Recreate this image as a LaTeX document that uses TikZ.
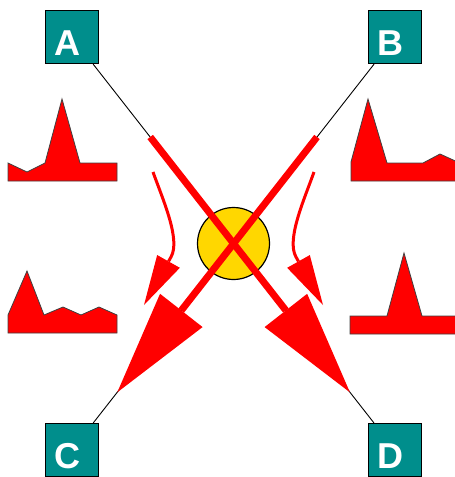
\documentclass[tikz,border=0pt]{standalone}
\usepackage{fontspec}
\setmainfont{Liberation Sans}
\usepackage{tikz}
\usetikzlibrary{arrows.meta,positioning,calc}

\definecolor{tealbox}{RGB}{0,142,140}
\definecolor{hubgold}{RGB}{255,215,0}
\newcommand{\boxletter}[1]{\hspace*{-10pt}#1}

\begin{document}
\begin{tikzpicture}[
    x=1pt, y=-1pt,
    portbox/.style={rectangle, draw=black, line width=1.2pt, fill=tealbox, minimum size=53pt, inner sep=0pt,
        text=white, font=\bfseries\fontsize{36}{36}\selectfont, text height=36pt, text depth=0pt},
    wire/.style={black, line width=0.9pt},
    bigarrow/.style={red, line width=7pt, -{Triangle[length=104pt, width=54pt, line width=0pt]}},
    smallarrow/.style={red, line width=3pt, -{Triangle[length=50pt, width=26pt, line width=0pt]}},
    wave/.style={fill=red, draw=black!75, line width=0.8pt, line join=miter}
]
\useasboundingbox (0,0) rectangle (455,477);

\node[portbox] (A) at (72,37) {\boxletter{A}};
\node[portbox, right=269pt of A] (B) {\boxletter{B}};
\node[portbox, below=359pt of A] (C) {\boxletter{C}};
\node[portbox, below=359pt of B] (D) {\boxletter{D}};

% thin wires between the ports
\draw[wire] (A) -- (D);
\draw[wire] (B) -- (C);

\node[circle, draw=black, line width=1.2pt, fill=hubgold, minimum size=72pt] (hub) at (233.5,243.5) {};

% crossing arrows
\draw[bigarrow] ($(A)!0.242!(D)$) -- ($(A)!0.86!(D)$);
\draw[bigarrow] ($(B)!0.242!(C)$) -- ($(B)!0.86!(C)$);

% bent arrows
\draw[smallarrow] (153,172) .. controls (163,200) and (180.8,239.6) .. (171,257) -- (144,305);
\draw[smallarrow] (314,172) .. controls (304,200) and (286.2,239.6) .. (296,257) -- (323,305);

% signal shapes
\filldraw[wave] (8,163) -- (27,172) -- (45,163) -- (62,99) -- (80,163) -- (117,163) -- (117,181) -- (8,181) -- cycle;
\filldraw[wave] (8,315) -- (27,271) -- (44,315) -- (63,307) -- (81,315) -- (99,307) -- (117,315) -- (117,333) -- (8,333) -- cycle;
\filldraw[wave] (351,162) -- (368,99) -- (387,163) -- (423,163) -- (440,154) -- (462,164) -- (462,181) -- (351,181) -- cycle;
\filldraw[wave] (350,316) -- (387,316) -- (404,253) -- (422,316) -- (462,316) -- (462,334) -- (350,334) -- cycle;
\end{tikzpicture}
\end{document}
